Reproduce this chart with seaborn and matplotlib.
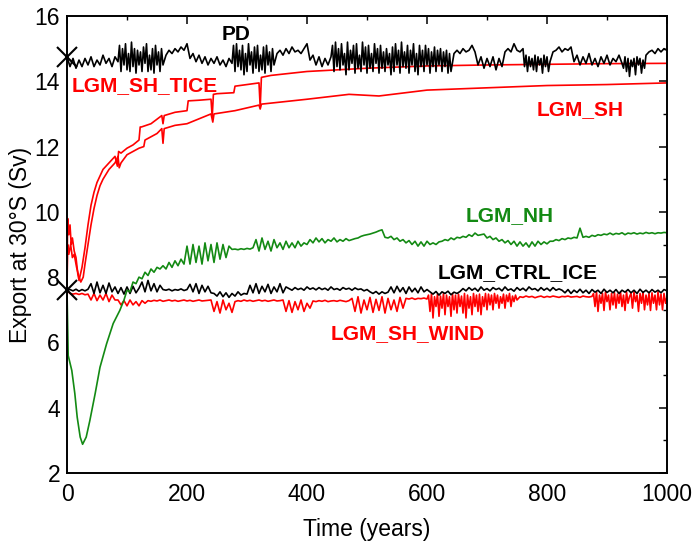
import numpy as np
import pandas as pd
import matplotlib
matplotlib.use("Agg")
import matplotlib.pyplot as plt
import seaborn as sns

# ---------------- data ----------------
years5 = list(range(0, 1001, 5))

# PD: sampling years (denser where the record is very noisy)
pd_years = np.concatenate([
    np.arange(0, 86, 5), np.arange(87.5, 160.1, 2.5), np.arange(165, 276, 5),
    np.arange(277.5, 345.1, 2.5), np.arange(350, 441, 5), np.arange(442.5, 640.1, 2.5),
    np.arange(645, 761, 5), np.arange(762.5, 805.1, 2.5), np.arange(810, 926, 5),
    np.arange(927.5, 965.1, 2.5), np.arange(970, 1001, 5)])
pd_vals = [
    14.75, 14.45, 14.7, 14.4, 14.65,
    14.45, 14.7, 14.5, 14.75, 14.45, 14.65, 14.5, 14.8, 14.55, 14.7, 14.45, 14.75, 14.6,
    15.1, 14.3, 15.0, 14.5, 15.15, 14.35, 14.85, 14.3, 15.2, 14.45, 15.0, 14.25, 14.95, 14.5, 14.9,
    14.3, 15.05, 14.55, 15.15, 14.3, 14.8, 14.35, 15.0, 14.25, 15.1, 14.5, 14.9, 14.3, 15.0, 14.5,
    14.8, 14.95, 14.85, 15.0, 14.9, 15.05, 14.95, 15.15,
    14.7, 14.85, 14.6, 14.8, 14.55, 14.75, 14.5, 14.7, 14.55, 14.75, 14.5, 14.65, 14.45, 14.7, 14.55,
    15.1, 14.3, 15.15, 14.45, 14.95, 14.35, 15.1, 14.2, 14.85, 14.3, 15.15, 14.5, 14.9, 14.25,
    15.05, 14.4, 15.1, 14.3, 14.8, 14.35, 15.05, 14.25, 15.1, 14.5, 14.9, 14.3, 15.0, 14.5,
    14.85, 14.95, 14.8, 15.0, 14.85, 15.05, 14.9, 14.95, 14.85, 15.0, 15.15,
    14.65, 14.8, 14.5, 14.75, 14.45, 14.7, 14.5, 14.75,
    15.1, 14.3, 15.2, 14.45, 15.0, 14.35, 15.15, 14.5, 14.85, 14.2, 15.2, 14.35, 14.95, 14.55, 15.1, 14.25, 15.15, 14.4, 14.8, 14.3,
    15.2, 14.5, 15.05, 14.25, 15.1, 14.4, 14.85, 14.3, 15.15, 14.55, 15.0, 14.25, 15.1, 14.4, 14.9, 14.3, 15.0, 14.5, 14.85, 14.2,
    15.05, 14.3, 15.15, 14.5, 14.95, 14.25, 15.2, 14.45, 14.9, 14.4, 15.1, 14.25, 14.95, 14.5, 15.15, 14.3, 14.85, 14.2, 15.1, 14.45,
    14.95, 14.3, 15.1, 14.5, 15.0, 14.25, 14.9, 14.45, 15.05, 14.3, 14.95, 14.5, 15.0, 14.3, 14.9, 14.45, 14.95, 14.25, 14.85, 14.3,
    14.85, 14.95, 14.85, 15.0, 14.9, 14.95, 15.1, 14.9,
    14.5, 14.75, 14.4, 14.7, 14.45, 14.75, 14.35, 14.7, 14.45,
    14.9, 15.0, 14.9, 15.15, 14.95, 14.9, 15.0,
    14.45, 14.8, 14.3, 14.75, 14.45, 14.7, 14.35, 14.8, 14.3, 14.75, 14.5, 14.7, 14.25, 14.8, 14.45, 14.75, 14.3, 14.6,
    14.9, 14.95, 15.05, 14.9, 15.0, 14.95, 15.05,
    14.6, 14.8, 14.5, 14.75, 14.55, 14.85, 14.5, 14.7, 14.45, 14.75, 14.55, 14.8, 14.5, 14.7, 14.6, 14.8, 14.55,
    14.4, 14.75, 14.3, 14.7, 14.15, 14.65, 14.45, 14.7, 14.2, 14.75, 14.5, 14.7, 14.25, 14.65, 14.4, 14.8,
    14.9, 14.95, 14.85, 15.0, 14.9, 15.0, 14.95,
]

ctrl_vals = [
    7.6, 7.62, 7.58, 7.63, 7.57, 7.62, 7.58, 7.63,
    7.8, 7.5, 7.85, 7.52, 7.75, 7.5, 7.82, 7.55, 7.7,
    7.5, 7.68, 7.48, 7.7, 7.5, 7.72, 7.52, 7.66,
    7.85, 7.55, 7.9, 7.58, 7.8, 7.55, 7.75,
    7.62, 7.6, 7.63, 7.58, 7.62, 7.6, 7.64, 7.59, 7.62,
    7.78, 7.55, 7.8, 7.5, 7.75, 7.55, 7.72, 7.52,
    7.5, 7.42, 7.55, 7.4, 7.52, 7.38, 7.5, 7.42, 7.55, 7.45, 7.5, 7.48,
    7.75, 7.52, 7.8, 7.5, 7.72, 7.55, 7.78, 7.5, 7.7, 7.55, 7.8, 7.52, 7.7,
    7.65, 7.6, 7.68, 7.62, 7.66, 7.6, 7.7, 7.63, 7.67, 7.61, 7.68, 7.62, 7.66, 7.6,
    7.7, 7.62, 7.65, 7.6, 7.68, 7.63, 7.66, 7.6, 7.67, 7.62, 7.64, 7.58, 7.62,
    7.55, 7.5, 7.56, 7.48, 7.55, 7.5, 7.54,
    7.7, 7.52, 7.72, 7.55, 7.68, 7.5, 7.7, 7.55, 7.66, 7.52, 7.7, 7.55, 7.62,
    7.55, 7.48, 7.56, 7.45, 7.55, 7.5, 7.57, 7.46, 7.54, 7.5, 7.56,
    7.65, 7.58, 7.68, 7.6, 7.66, 7.57, 7.7, 7.6, 7.65, 7.58, 7.68, 7.62, 7.66, 7.58, 7.7, 7.6, 7.64,
    7.57, 7.68, 7.6, 7.66, 7.58, 7.7, 7.62, 7.65, 7.58, 7.68, 7.6, 7.66, 7.58, 7.68, 7.6, 7.64,
    7.6, 7.52, 7.62, 7.5, 7.6, 7.53, 7.63, 7.52, 7.6, 7.5, 7.62, 7.54, 7.6, 7.5, 7.63, 7.53, 7.6, 7.52,
    7.62, 7.5, 7.6, 7.54, 7.62, 7.52, 7.6, 7.5, 7.63, 7.53, 7.6, 7.52, 7.62, 7.54, 7.6, 7.52, 7.62, 7.58,
]

wind_years = np.concatenate([
    np.arange(0, 601, 5), np.arange(602.5, 750.1, 2.5),
    np.arange(755, 876, 5), np.arange(877.5, 1000.1, 2.5)])
wind_vals = [
    7.6, 7.5, 7.48, 7.5, 7.47, 7.5, 7.46,
    7.48, 7.3, 7.5, 7.28, 7.45, 7.3, 7.5, 7.25, 7.45, 7.3,
    7.3, 7.15, 7.28, 7.12, 7.3, 7.15, 7.25, 7.12, 7.28, 7.2,
    7.28, 7.26, 7.29, 7.27, 7.3, 7.26, 7.28, 7.3, 7.27, 7.29, 7.26, 7.28, 7.3, 7.27, 7.29, 7.26,
    7.28, 7.3, 7.27, 7.28, 7.29,
    7.3, 6.95, 7.25, 6.9, 7.3, 7.0, 7.2, 6.92, 7.25,
    7.28, 7.26, 7.3, 7.27, 7.29, 7.26, 7.28, 7.3, 7.27, 7.29, 7.26, 7.28, 7.3, 7.27, 7.28,
    7.3, 6.95, 7.28, 6.92, 7.25, 7.0, 7.3, 6.95, 7.2, 7.05,
    7.27, 7.25, 7.28, 7.26, 7.29, 7.25, 7.27, 7.28, 7.26, 7.29, 7.27, 7.25, 7.28,
    7.35, 6.95, 7.4, 6.9, 7.3, 7.0, 7.38, 6.92, 7.32, 6.98, 7.4, 6.9, 7.35, 7.0, 7.3, 6.95, 7.38, 7.05,
    7.35, 7.33, 7.36, 7.32, 7.35, 7.34, 7.36, 7.33,
    7.45, 6.95, 7.5, 6.75, 7.4, 7.1, 7.48, 6.8, 7.42, 7.05, 7.5, 6.85, 7.45, 7.1, 7.4, 6.8, 7.5, 7.0, 7.45, 6.9,
    7.48, 7.1, 7.42, 6.9, 7.5, 6.75, 7.45, 7.05, 7.4, 6.85, 7.5, 7.1, 7.45, 6.95, 7.48, 6.85, 7.4, 7.1, 7.5, 7.0,
    7.48, 7.15, 7.45, 7.0, 7.5, 7.2, 7.45, 7.05, 7.4, 7.2, 7.48, 7.05, 7.45, 7.25, 7.5, 7.1, 7.42, 7.25, 7.45, 7.3,
    7.4, 7.38, 7.42, 7.39, 7.41, 7.37, 7.4, 7.42, 7.38, 7.41, 7.39, 7.42, 7.4,
    7.38, 7.41, 7.4, 7.42, 7.39, 7.4, 7.41, 7.38, 7.42, 7.4, 7.39, 7.41,
    7.5, 7.1, 7.55, 6.95, 7.45, 7.2, 7.5, 6.98, 7.55, 7.25, 7.45, 7.0, 7.5, 7.15, 7.52, 7.05, 7.48, 7.2,
    7.55, 7.1, 7.45, 6.98, 7.55, 7.2, 7.4,
    7.5, 7.05, 7.55, 7.25, 7.45, 6.95, 7.5, 7.2, 7.55, 7.0, 7.45, 7.15, 7.5, 6.98, 7.52, 7.2, 7.45, 7.0,
    7.55, 7.15, 7.48, 7.0, 7.5, 7.2, 7.4,
]

nh_years = [0, 2, 4, 8, 13, 17, 22, 26, 32, 38, 47, 55, 66, 77, 88] + list(range(95, 1001, 5))
nh_vals = [
    7.6, 5.6, 5.45, 5.14, 4.44, 3.71, 3.1, 2.88, 3.1, 3.6, 4.44, 5.24, 5.96, 6.58, 6.98,
    7.3, 7.6, 7.55, 7.85, 7.8, 8.0, 7.95, 8.15, 8.05, 8.25, 8.15, 8.3, 8.25,
    8.35, 8.25, 8.45, 8.3, 8.5, 8.35, 8.55, 8.4,
    8.95, 8.4, 9.0, 8.45, 8.95, 8.4, 9.05, 8.5, 9.0, 8.45, 9.05, 8.55, 9.0, 8.6, 8.95,
    8.85, 8.86, 8.84, 8.87, 8.85, 8.88, 8.86, 8.9,
    9.15, 8.8, 9.2, 8.85, 9.1, 8.8, 9.15, 8.9, 9.05, 8.85, 9.1, 8.9, 9.05, 8.9, 9.1, 8.95, 9.05, 9.0,
    9.15, 9.05, 9.2, 9.08, 9.18, 9.05, 9.15, 9.1, 9.2, 9.08, 9.15, 9.1, 9.18, 9.12, 9.15, 9.18,
    9.2, 9.25, 9.28, 9.3, 9.32, 9.35, 9.38, 9.42, 9.45,
    9.22, 9.2, 9.25, 9.15, 9.2, 9.1, 9.15, 9.05, 9.12, 9.0, 9.1, 8.95, 9.08, 8.95, 9.1, 9.0, 9.05, 9.0, 9.08,
    9.1, 9.15, 9.12, 9.2, 9.15, 9.22, 9.2, 9.25, 9.22, 9.3, 9.25, 9.35, 9.28, 9.3, 9.32,
    9.2, 9.25, 9.15, 9.2, 9.1, 9.15, 9.05, 9.12, 9.0, 9.1, 8.95, 9.08, 8.95, 9.05, 8.92, 9.08, 8.95,
    9.1, 9.0, 9.08, 9.02, 9.1,
    9.1, 9.15, 9.12, 9.18, 9.15, 9.2, 9.18, 9.22, 9.2, 9.5, 9.22, 9.25, 9.22, 9.28, 9.25, 9.3,
    9.28, 9.32, 9.3, 9.35, 9.3, 9.34, 9.32, 9.36, 9.3, 9.35, 9.33, 9.36, 9.32, 9.35, 9.33, 9.37,
    9.34, 9.36, 9.33, 9.36, 9.35, 9.37, 9.36,
]

tice_years = [0, 1, 3, 5, 7, 9, 12, 15, 18, 20, 25, 30, 35, 40, 45, 50, 55, 60, 70, 80,
              84, 86, 90, 100, 110, 120, 122, 124, 140, 158, 160, 162, 180, 200, 202, 220,
              240, 242, 244, 250, 278, 280, 300, 320, 322, 324, 340, 400, 500, 600, 700,
              800, 900, 1000]
tice_vals = [7.6, 9.8, 9.3, 9.6, 9.0, 9.2, 8.8, 8.6, 8.1, 7.9, 8.3, 8.9, 9.6, 10.2, 10.6,
             10.9, 11.1, 11.3, 11.5, 11.7, 11.4, 11.85, 11.8, 11.95, 12.05, 12.2, 12.6, 12.6,
             12.7, 12.95, 12.7, 12.95, 13.05, 13.1, 13.4, 13.42, 13.45, 12.9, 13.6, 13.62,
             13.65, 13.85, 13.9, 13.95, 13.2, 14.12, 14.18, 14.3, 14.4, 14.47, 14.5, 14.52,
             14.54, 14.55]

sh_years = [0, 1, 3, 6, 9, 12, 16, 20, 23, 27, 30, 35, 40, 45, 50, 55, 60, 70, 80, 85,
            87, 90, 100, 120, 128, 130, 150, 158, 160, 162, 180, 200, 220, 240, 243, 245,
            280, 320, 322, 324, 400, 470, 520, 600, 700, 800, 900, 1000]
sh_vals = [7.6, 9.0, 8.7, 9.0, 8.6, 8.7, 8.3, 8.0, 7.85, 8.0, 8.4, 9.0, 9.6, 10.1, 10.5,
           10.8, 11.0, 11.3, 11.5, 11.7, 11.35, 11.5, 11.75, 11.95, 12.0, 12.2, 12.4, 12.55,
           12.1, 12.55, 12.65, 12.7, 12.85, 13.0, 12.75, 13.0, 13.1, 13.27, 13.15, 13.3,
           13.45, 13.6, 13.55, 13.73, 13.8, 13.87, 13.9, 13.95]

start_years = [0, 0]
start_vals = [14.75, 7.6]

labels = ["PD", "LGM_SH_TICE", "LGM_SH", "LGM_NH", "LGM_CTRL_ICE", "LGM_SH_WIND"]
label_x = [282, 130, 856, 737, 751, 568]
label_y = [15.43, 13.88, 13.12, 9.88, 8.13, 6.26]

x_ticks = [0, 200, 400, 600, 800, 1000]
y_ticks = [2, 4, 6, 8, 10, 12, 14, 16]

RED = "#ff0000"
GREEN = "#138a13"
BLACK = "#000000"
label_colors = [BLACK, RED, RED, GREEN, BLACK, RED]

# ---------------- plot ----------------
sns.set_theme(style="white")
plt.rcParams["font.family"] = ["Liberation Sans", "DejaVu Sans"]

fig = plt.figure(figsize=(6.98, 5.43), dpi=100)
ax = fig.add_axes([67 / 698, 1 - 473 / 543, 600 / 698, 457 / 543])

def draw(xs, ys, color, lw=1.2):
    df = pd.DataFrame({"year": xs, "value": ys})
    sns.lineplot(data=df, x="year", y="value", ax=ax, color=color, lw=lw,
                 estimator=None, sort=False, legend=False)

draw(wind_years, wind_vals, RED)
draw(years5, ctrl_vals, BLACK)
draw(nh_years, nh_vals, GREEN)
draw(sh_years, sh_vals, RED)
draw(tice_years, tice_vals, RED)
draw(pd_years, pd_vals, BLACK)

ax.plot(start_years, start_vals, linestyle="none", marker="x", color="black",
        markersize=15, markeredgewidth=1.5, clip_on=False, zorder=10)

for t, x, y, c in zip(labels, label_x, label_y, label_colors):
    ax.text(x, y, t, color=c, fontsize=15, fontweight="bold", ha="center", va="center")

ax.set_xlim(0, 1000)
ax.set_ylim(2, 16)
ax.set_xticks(x_ticks)
ax.set_yticks(y_ticks)
ax.set_xticks(list(range(100, 1000, 200)), minor=True)
ax.set_yticks(list(range(3, 16, 2)), minor=True)
ax.tick_params(which="both", direction="in", top=True, right=True, color="black",
               labelsize=16.5, labelcolor="black")
ax.tick_params(which="major", length=5.5, width=1.1)
ax.tick_params(which="minor", length=3, width=1.0)
ax.tick_params(axis="x", which="major", pad=7)
ax.tick_params(axis="y", which="major", pad=5)
for s in ax.spines.values():
    s.set_color("black")
    s.set_linewidth(1.4)

ax.set_xlabel("Time (years)", fontsize=16.5, labelpad=9, color="black")
ax.set_ylabel("Export at 30°S (Sv)", fontsize=16.5, labelpad=2, color="black")

fig.savefig("out.png", dpi=100)
